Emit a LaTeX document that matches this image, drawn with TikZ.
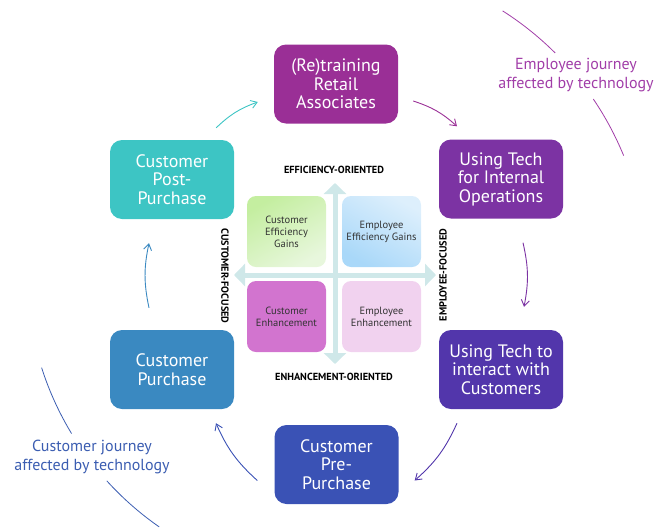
\documentclass[tikz,border=0pt]{standalone}
\usepackage{fontspec}
\setmainfont{PT Sans}
\usetikzlibrary{arrows.meta}

\definecolor{cRetrain}{HTML}{9A2F96}
\definecolor{cInternal}{HTML}{7C33A3}
\definecolor{cInteract}{HTML}{5236AB}
\definecolor{cPre}{HTML}{3A52B5}
\definecolor{cPurchase}{HTML}{3A89C1}
\definecolor{cPost}{HTML}{3DC5C4}
\definecolor{cAxis}{HTML}{CFE8E9}
\definecolor{cEmpJ}{HTML}{A13DA8}
\definecolor{cCustJ}{HTML}{3B5DB1}
\definecolor{cQText}{HTML}{333333}
\definecolor{cGreenA}{HTML}{C4EEA0}
\definecolor{cGreenB}{HTML}{E8F7DD}
\definecolor{cBlueA}{HTML}{DDEFFC}
\definecolor{cBlueB}{HTML}{A9D8F9}
\definecolor{cMagenta}{HTML}{D274CF}
\definecolor{cPink}{HTML}{F1D2EF}

\tikzset{
  stage/.style={rounded corners=12pt, minimum width=124pt, minimum height=79pt,
    text=white, align=center, inner sep=0pt,
    font=\fontsize{18}{18.5}\selectfont},
  quad/.style={rounded corners=9pt, minimum width=79pt, minimum height=71pt,
    text=cQText, align=center, inner sep=0pt,
    font=\fontsize{10.5}{12}\selectfont},
  flow/.style={line width=0.9pt, -{Straight Barb[length=6pt,width=8pt]}, bend left=12},
  axis/.style={cAxis, line width=5pt, {Triangle[length=11pt,width=22pt]}-{Triangle[length=11pt,width=22pt]}},
  axlabel/.style={font=\bfseries\fontsize{10.3}{11}\selectfont, text=black, inner sep=0pt},
  journey/.style={align=center, font=\fontsize{16}{19}\selectfont, inner sep=0pt},
}

\begin{document}
\begin{tikzpicture}[x=1pt,y=-1pt]
\useasboundingbox (0,0) rectangle (670,528);

% journey stages
\node[stage, fill=cRetrain]  (retrain)  at (336,84)    {(Re)training\\Retail\\Associates};
\node[stage, fill=cInternal] (internal) at (501,179)   {Using Tech\\for Internal\\Operations};
\node[stage, fill=cInteract] (interact) at (501,369.5) {Using Tech to\\interact with\\Customers};
\node[stage, fill=cPre]      (pre)      at (336.5,464.5) {Customer\\Pre-\\Purchase};
\node[stage, fill=cPurchase] (purchase) at (172,369.5) {Customer\\Purchase};
\node[stage, fill=cPost]     (post)     at (172,179.5) {Customer\\Post-\\Purchase};

% flow between stages
\draw[flow, cPost]     ([xshift=-18pt,yshift=12pt]post.north east) to ([xshift=-16pt,yshift=-18pt]retrain.west);
\draw[flow, cRetrain]  ([xshift=15pt,yshift=-17pt]retrain.east) to ([xshift=-44pt,yshift=13pt]internal.north);
\draw[flow, cInternal] ([xshift=22pt,yshift=-24pt]internal.south) to ([xshift=23pt,yshift=23pt]interact.north);
\draw[flow, cInteract] ([xshift=-44pt,yshift=-14pt]interact.south) to ([xshift=16pt,yshift=-16pt]pre.east);
\draw[flow, cPre]      ([xshift=-17pt,yshift=-16pt]pre.west) to ([xshift=44pt,yshift=-14pt]purchase.south);
\draw[flow, cPurchase] ([xshift=-23pt,yshift=22pt]purchase.north) to ([xshift=-23pt,yshift=-24pt]post.south);

% central matrix
\coordinate (vtop) at (335,183);
\coordinate (vbot) at (335,364);
\coordinate (hleft) at (234,275);
\coordinate (hright) at (436,275);
\draw[axis] (vbot) -- (vtop);
\draw[axis] (hleft) -- (hright);

\node[quad, top color=cGreenA, bottom color=cGreenB, shading angle=30] (ceg) at (286.5,231.5) {Customer\\Efficiency\\Gains};
\node[quad, top color=cBlueA, bottom color=cBlueB, shading angle=-30] (eeg) at (381.5,231.5) {Employee\\Efficiency Gains};
\node[quad, fill=cMagenta] (cen) at (286.5,316.5) {Customer\\Enhancement};
\node[quad, fill=cPink] (een) at (381.5,316.5) {Employee\\Enhancement};

\node[axlabel] (effl) at (334,170) {EFFICIENCY-ORIENTED};
\node[axlabel] (enhl) at (334,377) {ENHANCEMENT-ORIENTED};
\node[axlabel, rotate=-90] (custl) at (225,276) {CUSTOMER-FOCUSED};
\node[axlabel, rotate=90] (empl) at (443,275) {EMPLOYEE-FOCUSED};

% journey annotations on the outer ring
\node[journey, text=cEmpJ] (empj) at (576,75.5) {Employee journey\\affected by technology};
\node[journey, text=cCustJ] (custj) at (92,457) {Customer journey\\affected by technology};

\coordinate (ring) at (335,274);
\draw[cEmpJ, line width=0.8pt] (ring) ++(57.5:312pt) arc[start angle=57.5, end angle=45.1, radius=312pt];
\draw[cEmpJ, line width=0.8pt] (ring) ++(34.1:312pt) arc[start angle=34.1, end angle=22.3, radius=312pt];
\draw[cCustJ, line width=0.8pt] (ring) ++(197.7:308pt) arc[start angle=197.7, end angle=211.2, radius=308pt];
\draw[cCustJ, line width=0.8pt] (ring) ++(222.2:308pt) arc[start angle=222.2, end angle=235.2, radius=308pt];
\end{tikzpicture}
\end{document}
